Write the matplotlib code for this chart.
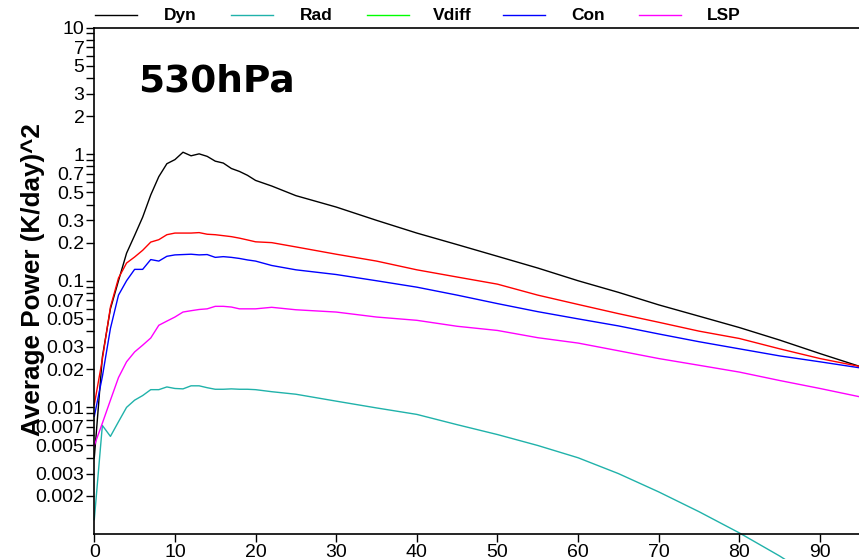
import numpy as np
import matplotlib
matplotlib.use('Agg')
import matplotlib.pyplot as plt
from matplotlib.lines import Line2D
from matplotlib.ticker import FixedLocator, FixedFormatter, NullFormatter

plt.rcParams['font.family'] = ['Liberation Sans', 'DejaVu Sans']

# zonal wavenumber
wavenum = [0, 1, 2, 3, 4, 5, 6, 7, 8, 9, 10, 11, 12, 13, 14, 15, 16, 17, 18, 19, 20,
           22, 25, 30, 35, 40, 45, 50, 55, 60, 65, 70, 75, 80, 85, 90, 95]

dyn = [0.004, 0.025, 0.06, 0.10, 0.165, 0.228, 0.318, 0.476, 0.664, 0.84, 0.905,
       1.035, 0.97, 1.005, 0.96, 0.88, 0.85, 0.77, 0.73, 0.68, 0.62,
       0.56, 0.47, 0.382, 0.30, 0.238, 0.193, 0.156, 0.126, 0.100, 0.081,
       0.0645, 0.0525, 0.0427, 0.034, 0.0266, 0.021]
rad = [0.0013, 0.0072, 0.0059, 0.0077, 0.010, 0.0114, 0.0124, 0.0138, 0.0138, 0.0145,
       0.0141, 0.014, 0.0148, 0.0148, 0.0143, 0.0139, 0.0139, 0.014, 0.0139, 0.0139, 0.0138,
       0.0133, 0.0127, 0.0112, 0.0099, 0.0088, 0.0073, 0.0061, 0.0050, 0.0040, 0.0030,
       0.00215, 0.0015, 0.00102, 0.00067, 0.00042, 0.00026]
vdiff = []
con = [0.0085, 0.0175, 0.042, 0.077, 0.10, 0.123, 0.123, 0.147, 0.143, 0.156, 0.16,
       0.161, 0.162, 0.16, 0.161, 0.153, 0.155, 0.153, 0.15, 0.146, 0.143,
       0.132, 0.122, 0.112, 0.10, 0.089, 0.077, 0.066, 0.057, 0.050, 0.044,
       0.038, 0.033, 0.029, 0.0255, 0.0229, 0.0205]
lsp = [0.005, 0.0075, 0.0114, 0.0172, 0.0229, 0.0274, 0.031, 0.0353, 0.0445, 0.048,
       0.0517, 0.0566, 0.058, 0.0593, 0.060, 0.0628, 0.0628, 0.062, 0.060, 0.060, 0.060,
       0.0617, 0.059, 0.0566, 0.0517, 0.0487, 0.0437, 0.0405, 0.0355, 0.0322, 0.028,
       0.0243, 0.0215, 0.019, 0.0163, 0.0141, 0.0121]
total = [0.0105, 0.024, 0.062, 0.105, 0.138, 0.154, 0.174, 0.202, 0.211, 0.231, 0.238,
         0.238, 0.238, 0.24, 0.233, 0.231, 0.227, 0.223, 0.217, 0.21, 0.203,
         0.20, 0.185, 0.162, 0.143, 0.122, 0.107, 0.094, 0.077, 0.065, 0.055,
         0.047, 0.040, 0.035, 0.029, 0.0243, 0.021]

legend_names = ['Dyn', 'Rad', 'Vdiff', 'Con', 'LSP']
legend_colors = ['black', 'lightseagreen', '#00ff00', '#0000ff', '#ff00ff']

ytick_vals = [0.002, 0.003, 0.005, 0.007, 0.01, 0.02, 0.03, 0.05, 0.07,
              0.1, 0.2, 0.3, 0.5, 0.7, 1, 2, 3, 5, 7, 10]
ytick_labels = ['0.002', '0.003', '0.005', '0.007', '0.01', '0.02', '0.03', '0.05', '0.07',
                '0.1', '0.2', '0.3', '0.5', '0.7', '1', '2', '3', '5', '7', '10']

fig = plt.figure(figsize=(8.59, 5.59), dpi=100)
ax = fig.add_axes([94.3 / 859, 25 / 559, 766 / 859, 506.5 / 559])

series = [(dyn, 'black'), (rad, 'lightseagreen'), (lsp, '#ff00ff'),
          (con, '#0000ff'), (total, '#ff0000')]
for vals, col in series:
    ax.plot(wavenum, vals, color=col, lw=1.0, clip_on=False)

ax.set_yscale('log')
ax.set_xlim(0, 95)
ax.set_ylim(1e-3, 10)

ax.yaxis.set_major_locator(FixedLocator(ytick_vals))
ax.yaxis.set_major_formatter(FixedFormatter(ytick_labels))
minor = [m * 10.0 ** e for e in range(-3, 1) for m in (4, 6, 8, 9)]
ax.yaxis.set_minor_locator(FixedLocator(minor))
ax.yaxis.set_minor_formatter(NullFormatter())
ax.set_xticks(np.arange(0, 91, 10))

ax.tick_params(axis='both', which='both', direction='out', length=5.5,
               width=1, labelsize=14, pad=1.5)
ax.spines['right'].set_visible(False)
for s in ['left', 'bottom', 'top']:
    ax.spines[s].set_linewidth(1.2)

ax.set_ylabel('Average Power (K/day)^2', fontsize=18.8, fontweight='bold')
ax.yaxis.set_label_coords(-0.064, 0.503)

ax.text(0.057, 0.873, '530hPa', transform=ax.transAxes, fontsize=27,
        fontweight='bold', family='DejaVu Sans')

# legend strip along the top
for i, (name, col) in enumerate(zip(legend_names, legend_colors)):
    x0 = (95 + 136 * i) / 859
    fig.add_artist(Line2D([x0, x0 + 42 / 859], [0.973, 0.973], color=col, lw=1.0))
    fig.text(x0 + 85 / 859, 0.973, name, ha='center', va='center',
             fontsize=12.5, fontweight='bold')

fig.savefig('out.png', dpi=100)
